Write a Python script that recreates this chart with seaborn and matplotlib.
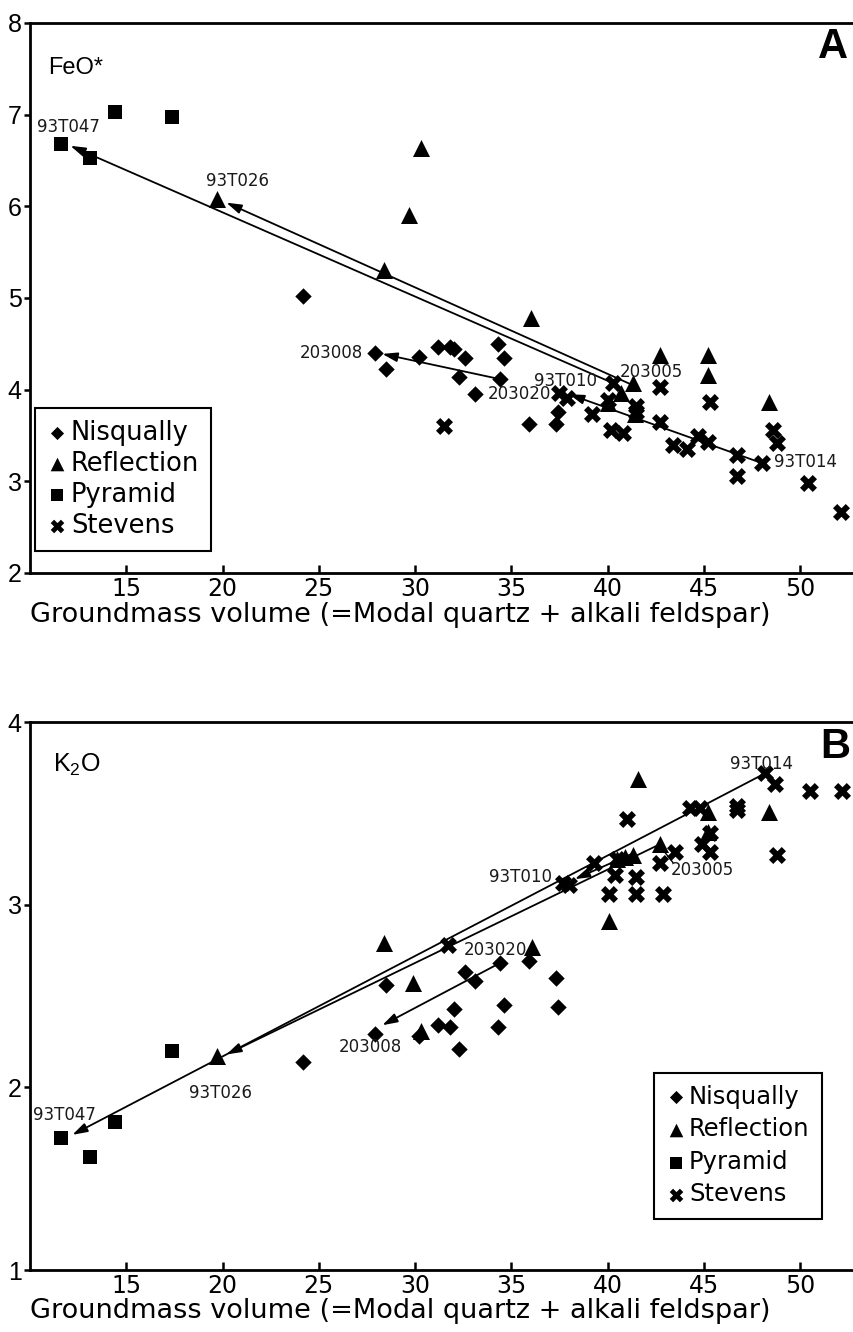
import matplotlib
matplotlib.use("Agg")
import matplotlib.pyplot as plt
import seaborn as sns

# === DATA ===
# Nisqually (diamonds) - same samples in both panels
nisq_gm = [24.2, 27.9, 28.5, 30.2, 31.2, 31.8, 32.0, 32.3, 32.6, 33.1, 34.3, 34.4, 34.6, 35.9, 37.3, 37.4]
nisq_feo = [5.02, 4.40, 4.23, 4.36, 4.46, 4.47, 4.44, 4.14, 4.34, 3.95, 4.50, 4.12, 4.34, 3.63, 3.63, 3.76]
nisq_k2o = [2.14, 2.29, 2.56, 2.28, 2.34, 2.33, 2.43, 2.21, 2.63, 2.58, 2.33, 2.68, 2.45, 2.69, 2.60, 2.44]

# Pyramid (squares)
pyr_gm = [11.6, 13.1, 14.4, 17.35]
pyr_feo = [6.68, 6.53, 7.03, 6.97]
pyr_k2o = [1.72, 1.62, 1.81, 2.20]

# Reflection (triangles)
refl_gm_a = [19.7, 28.4, 29.7, 30.3, 36.0, 40.0, 40.7, 41.3, 41.4, 42.7, 45.2, 45.2, 48.4]
refl_feo = [6.08, 5.31, 5.91, 6.64, 4.78, 3.85, 3.96, 4.07, 3.73, 4.38, 4.38, 4.16, 3.87]
refl_gm_b = [19.7, 28.4, 29.9, 30.3, 36.1, 40.1, 40.5, 40.9, 41.3, 41.6, 42.7, 45.2, 45.2, 48.4]
refl_k2o = [2.17, 2.79, 2.57, 2.31, 2.77, 2.91, 3.25, 3.26, 3.27, 3.69, 3.33, 3.51, 3.40, 3.51]

# Stevens (crosses)
stev_gm_a = [31.5, 37.5, 37.9, 39.2, 40.0, 40.2, 40.3, 40.8, 41.5, 41.5, 42.7, 42.7, 43.4, 44.1,
             44.7, 45.2, 45.3, 46.7, 46.7, 48.0, 48.6, 48.8, 50.4, 52.1]
stev_feo = [3.60, 3.96, 3.91, 3.73, 3.89, 3.56, 4.07, 3.53, 3.82, 3.76, 4.03, 3.65, 3.40, 3.35,
            3.49, 3.43, 3.87, 3.29, 3.06, 3.20, 3.56, 3.42, 2.98, 2.67]
stev_gm_b = [31.7, 37.7, 38.0, 39.3, 40.1, 40.4, 40.5, 41.0, 41.5, 41.5, 42.7, 42.9, 43.5, 44.3,
             44.8, 44.9, 45.3, 45.3, 46.7, 46.7, 48.2, 48.7, 48.8, 50.5, 52.2]
stev_k2o = [2.78, 3.12, 3.11, 3.23, 3.06, 3.16, 3.25, 3.47, 3.15, 3.06, 3.23, 3.06, 3.29, 3.53,
            3.53, 3.33, 3.39, 3.29, 3.54, 3.52, 3.72, 3.66, 3.27, 3.62, 3.62]

# trend arrows: (x_from, y_from, x_to, y_to)
trends_feo = [(40.3, 4.07, 12.1, 6.66), (41.3, 4.05, 20.2, 6.04),
              (48.0, 3.20, 38.0, 3.95), (34.3, 4.12, 28.3, 4.39)]
trends_k2o = [(48.2, 3.72, 12.2, 1.74), (42.7, 3.33, 20.2, 2.18),
              (41.3, 3.28, 38.3, 3.14), (34.4, 2.68, 28.3, 2.34)]
leaders_k2o = [(42.8, 3.31, 43.4, 3.23)]

# sample labels: (text, x, y)
labels_feo = [("93T047", 12.0, 6.86), ("93T026", 20.8, 6.28), ("203008", 25.65, 4.40),
              ("203020", 35.4, 3.95), ("93T010", 37.8, 4.09), ("203005", 42.3, 4.19),
              ("93T014", 50.3, 3.21)]
labels_k2o = [("93T047", 11.8, 1.85), ("93T026", 19.9, 1.97), ("203008", 27.7, 2.22),
              ("203020", 34.2, 2.75), ("93T010", 35.5, 3.15), ("203005", 44.9, 3.19),
              ("93T014", 48.0, 3.77)]

xticks = [15, 20, 25, 30, 35, 40, 45, 50]
xlabel = "Groundmass volume (=Modal quartz + alkali feldspar)"

# === STYLE ===
sns.set_style("ticks")
plt.rcParams['font.family'] = ['DejaVu Sans']
plt.rcParams['mathtext.default'] = 'regular'
for key in ['text.color', 'axes.labelcolor', 'xtick.color', 'ytick.color', 'axes.edgecolor']:
    plt.rcParams[key] = 'black'
HELV = ['Liberation Sans', 'DejaVu Sans']

fig = plt.figure(figsize=(8.54, 13.32), dpi=100)
ax1 = fig.add_axes([30 / 854, 1 - 573 / 1332, 824 / 854, 550 / 1332])
ax2 = fig.add_axes([30 / 854, 1 - 1270 / 1332, 824 / 854, 548 / 1332])


def draw_panel(ax, nisq_y, refl_x, refl_y, pyr_y, stev_x, stev_y):
    sns.scatterplot(x=nisq_gm, y=nisq_y, marker='D', s=70, color='black', linewidth=0,
                    label='Nisqually', ax=ax, zorder=3)
    sns.scatterplot(x=refl_x, y=refl_y, marker='^', s=150, color='black', linewidth=0,
                    label='Reflection', ax=ax, zorder=3)
    sns.scatterplot(x=pyr_gm, y=pyr_y, marker='s', s=100, color='black', linewidth=0,
                    label='Pyramid', ax=ax, zorder=3)
    sns.scatterplot(x=stev_x, y=stev_y, marker='X', s=150, color='black', linewidth=0,
                    label='Stevens', ax=ax, zorder=3)


draw_panel(ax1, nisq_feo, refl_gm_a, refl_feo, pyr_feo, stev_gm_a, stev_feo)
draw_panel(ax2, nisq_k2o, refl_gm_b, refl_k2o, pyr_k2o, stev_gm_b, stev_k2o)

for ax, trends, labels in [(ax1, trends_feo, labels_feo), (ax2, trends_k2o, labels_k2o)]:
    for x0, y0, x1, y1 in trends:
        ax.annotate('', xy=(x1, y1), xytext=(x0, y0),
                    arrowprops=dict(arrowstyle='-|>,head_length=0.9,head_width=0.28',
                                    color='black', lw=1.3, shrinkA=0, shrinkB=0),
                    zorder=4)
    for txt, x, y in labels:
        ax.text(x, y, txt, fontsize=12, ha='center', va='center', color='#1a1a1a', zorder=5)

for x0, y0, x1, y1 in leaders_k2o:
    ax2.plot([x0, x1], [y0, y1], color='black', lw=1.0)

# axes cosmetics
for ax, ylim, yticks in [(ax1, (2, 8), range(2, 9)), (ax2, (1, 4), range(1, 5))]:
    ax.set_xlim(10.0, 52.8)
    ax.set_ylim(*ylim)
    ax.set_xticks(xticks)
    ax.set_yticks(list(yticks))
    ax.spines['right'].set_visible(False)
    for sp in ['top', 'left', 'bottom']:
        ax.spines[sp].set_linewidth(2.0)
    ax.tick_params(axis='x', direction='in', length=6, width=1.8, pad=3, labelsize=17)
    ax.tick_params(axis='y', direction='out', length=4, width=1.8, pad=2, labelsize=18)
    for lab in ax.get_yticklabels():
        lab.set_family(HELV)
    ax.set_xlabel(xlabel, fontsize=19.5, labelpad=0)
    ax.xaxis.set_label_coords(0.0, -0.052)
    ax.xaxis.label.set_horizontalalignment('left')
    ax.xaxis.label.set_verticalalignment('top')
    ax.set_ylabel('')

ax1.text(0.022, 0.918, 'FeO*', transform=ax1.transAxes, fontsize=17, va='center', ha='left',
         family=HELV)
ax2.text(0.028, 0.921, 'K$_2$O', transform=ax2.transAxes, fontsize=18, va='center', ha='left',
         family=HELV)
ax1.text(0.993, 0.956, 'A', transform=ax1.transAxes, fontsize=30, fontweight='bold',
         va='center', ha='right', family=HELV)
ax2.text(0.995, 0.954, 'B', transform=ax2.transAxes, fontsize=30, fontweight='bold',
         va='center', ha='right', family=HELV)

leg1 = ax1.legend(loc='upper left', bbox_to_anchor=(0.006, 0.30), frameon=True, fancybox=False,
                  edgecolor='black', framealpha=1, fontsize=18.5, handletextpad=0.15,
                  handlelength=0.8, borderpad=0.45, labelspacing=0.2, markerscale=0.8,
                  borderaxespad=0)
leg1.get_frame().set_linewidth(1.5)
leg2 = ax2.legend(loc='upper left', bbox_to_anchor=(0.757, 0.360), frameon=True, fancybox=False,
                  edgecolor='black', framealpha=1, fontsize=17.5, handletextpad=0.15,
                  handlelength=0.8, borderpad=0.5, labelspacing=0.35, markerscale=0.8,
                  borderaxespad=0)
leg2.get_frame().set_linewidth(1.5)

fig.savefig("out.png", dpi=100)
